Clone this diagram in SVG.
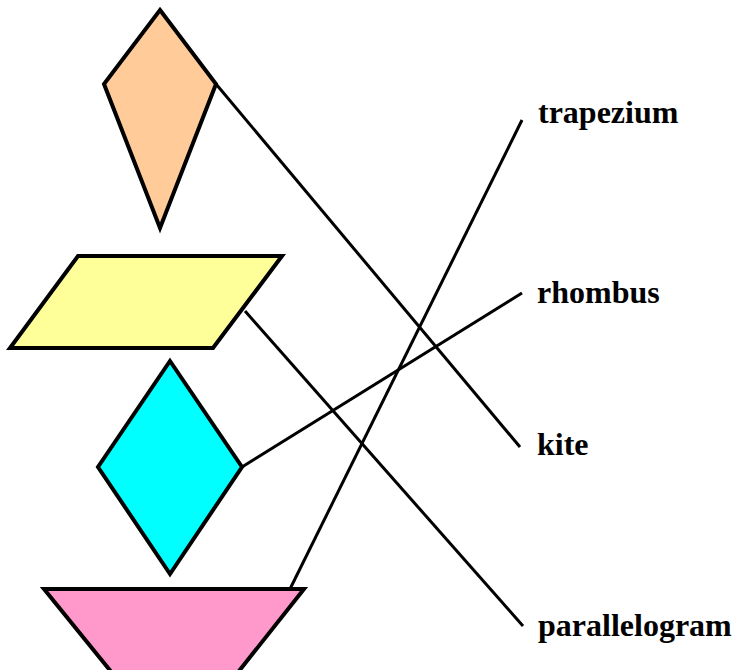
<svg xmlns="http://www.w3.org/2000/svg" width="734" height="670" viewBox="0 0 734 670">
<style>
.shape{stroke:#000;stroke-width:4;stroke-linejoin:miter}
.conn{stroke:#000;stroke-width:3;fill:none}
.lbl{font-family:"Liberation Serif","Times New Roman",serif;font-weight:bold;font-size:32px;fill:#000}
</style>
<rect width="734" height="670" fill="#fff"/>
<g id="connectors">
<line class="conn" x1="216" y1="84" x2="520" y2="447"/>
<line class="conn" x1="245" y1="311" x2="523" y2="626"/>
<line class="conn" x1="242" y1="467" x2="522" y2="293"/>
<line class="conn" x1="290" y1="589" x2="522" y2="120"/>
</g>
<g id="kite"><polygon class="shape" fill="#FFCC99" points="160,10 216,84 160,228 104,84"/></g>
<g id="parallelogram"><polygon class="shape" fill="#FFFF99" points="78,256 282,256 213,348 10,348"/></g>
<g id="rhombus"><polygon class="shape" fill="#00FFFF" points="170,361 242,467 170,574 98,467"/></g>
<g id="trapezium"><polygon class="shape" fill="#FF99CC" points="44,589 304,589 220,695 130,695"/></g>
<g id="label-trapezium"><text class="lbl" x="538" y="123">trapezium</text></g>
<g id="label-rhombus"><text class="lbl" x="537" y="303">rhombus</text></g>
<g id="label-kite"><text class="lbl" x="537" y="455">kite</text></g>
<g id="label-parallelogram"><text class="lbl" x="538" y="636">parallelogram</text></g>
</svg>
